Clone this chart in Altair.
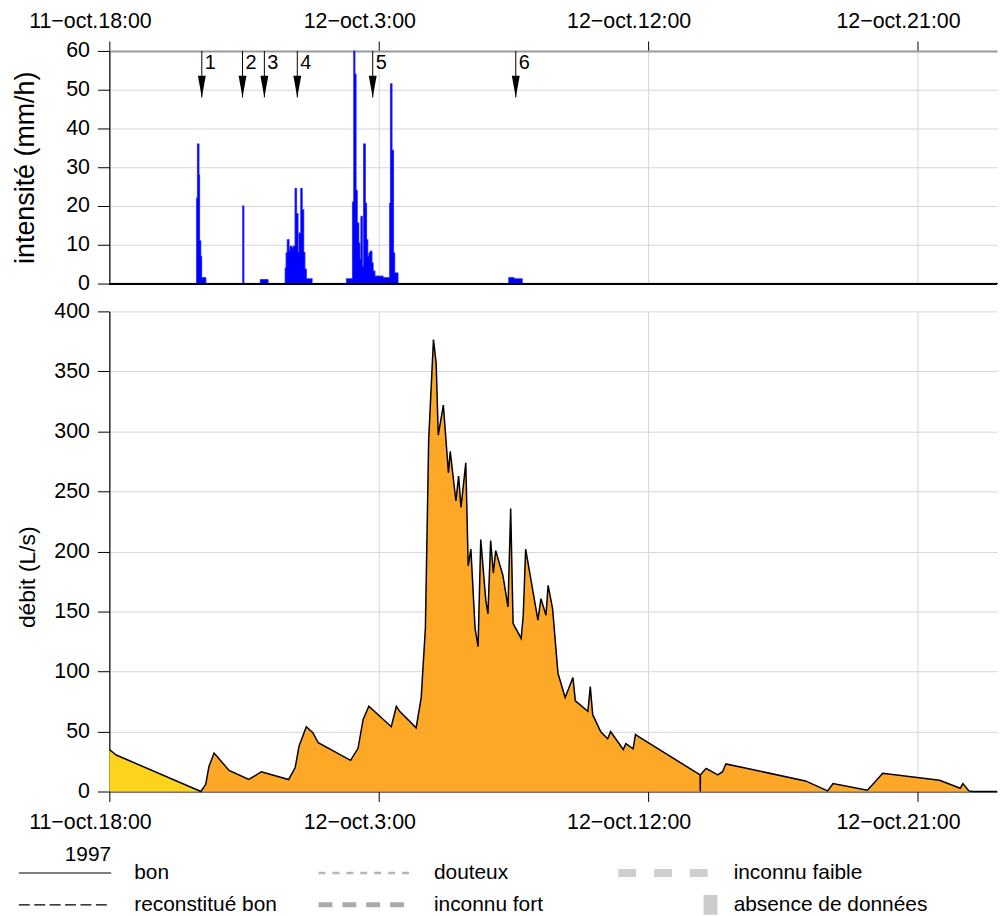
import altair as alt
import pandas as pd

# time axis: hours elapsed since 11 Oct 1997, 18:00
tick_hours = [0, 9, 18, 27]
tick_labels = ["11−oct.18:00", "12−oct.3:00", "12−oct.12:00", "12−oct.21:00"]
x_max = 29.66

# rainfall intensity (mm/h), step series starting at each time
rain_t = [0, 2.92, 2.95, 2.99, 3.01, 3.05, 3.08, 3.22, 4.46, 4.49, 5.05, 5.30,
          5.88, 5.91, 5.95, 6.00, 6.04, 6.10, 6.15, 6.21, 6.25, 6.30, 6.34, 6.40,
          6.44, 6.49, 6.53, 6.58, 6.77, 7.93, 8.13, 8.17, 8.20, 8.24, 8.28, 8.33,
          8.37, 8.41, 8.45, 8.50, 8.55, 8.59, 8.63, 8.68, 8.72, 8.77, 8.81, 8.87,
          9.14, 9.37, 9.40, 9.44, 9.49, 9.53, 9.64, 13.35, 13.52, 13.79, 29.66]
rain_v = [0, 22, 36, 28, 11, 7, 1.5, 0, 20, 0, 1.0, 0,
          4, 7.9, 11.3, 8.3, 9.6, 9.1, 9.6, 24.5, 18, 8, 13, 24.5,
          19, 8, 3.7, 1.2, 0, 1.2, 21, 60, 54, 24, 15.6, 10.4,
          6.2, 17.3, 4.4, 36, 20.7, 11.3, 7, 7.9, 8.3, 5.3, 3.2, 1.9,
          1.5, 20.7, 51.5, 34.4, 7.9, 2.7, 0, 1.5, 1.2, 0, 0]

# discharge (L/s), first stretch
flow1_t = [0, 0.23, 3.06]
flow1_v = [35, 30.4, 0]

# discharge (L/s), remainder
flow2_t = [3.06, 3.22, 3.33, 3.50, 4.00, 4.66, 5.08, 5.99, 6.21, 6.34, 6.58, 6.80,
           6.98, 8.06, 8.31, 8.48, 8.67, 9.42, 9.59, 9.70, 10.25, 10.42, 10.56, 10.67,
           10.83, 10.92, 10.99, 11.16, 11.33, 11.39, 11.58, 11.67, 11.75, 11.91, 11.99, 12.08,
           12.22, 12.32, 12.41, 12.58, 12.65, 12.74, 12.83, 12.91, 13.15, 13.32, 13.41, 13.49,
           13.76, 13.83, 13.91, 14.32, 14.42, 14.59, 14.66, 14.81, 14.99, 15.23, 15.49, 15.57,
           15.99, 16.07, 16.15, 16.42, 16.65, 16.75, 17.17, 17.26, 17.50, 17.58, 17.67, 19.74,
           19.745, 19.75, 19.94, 20.33, 20.49, 20.60, 23.26, 24.00, 24.18, 25.33, 25.84, 27.74,
           28.43, 28.52, 28.72, 28.85, 29.66]
flow2_v = [0, 6, 21, 32, 17.6, 10, 16.5, 10, 20, 38, 54, 49,
           40.6, 26, 36, 60, 71, 54, 71, 66.8, 53, 78, 136, 293,
           376.5, 356.7, 297, 322, 265.6, 283.5, 242, 262.8, 236.6, 273.9, 188, 202,
           136, 120.6, 210, 159, 148, 209, 182, 200.7, 180, 153.8, 235.8, 140,
           127.5, 146.8, 202, 142.7, 160.7, 146.8, 171.7, 152.4, 98.5, 78.4, 95, 75.6,
           66.8, 87.5, 64, 49.7, 44, 50, 35, 39.8, 35.6, 47.5, 46, 13.8,
           0, 14, 19.3, 13.8, 16.5, 23, 8.8, 0.5, 6.6, 1, 15.2, 9.4,
           2.7, 6.6, 0.5, 0, 0]

# numbered rain events
event_t = [3.09, 4.45, 5.18, 6.28, 8.80, 13.58]
event_lbl = ["1", "2", "3", "4", "5", "6"]

# quality legend
leg_labels = ["bon", "reconstitué bon", "douteux", "inconnu fort",
              "inconnu faible", "absence de données"]
leg_col = [0, 0, 1, 1, 2, 2]
leg_row = [0, 1, 0, 1, 0, 1]
leg_title = "1997"

FONT = "Liberation Sans"
W = 893
H_TOP = 234
H_BOT = 483
H_LEG = 95
GRID = "#d6d6d6"
LABEL_SIZE = 21.5
LEG_SIZE = 21

rain = pd.DataFrame({"t": rain_t, "v": rain_v})
flow1 = pd.DataFrame({"t": flow1_t, "v": flow1_v})
flow2 = pd.DataFrame({"t": flow2_t, "v": flow2_v})
flow_all = pd.DataFrame({"t": flow1_t + flow2_t[1:], "v": flow1_v + flow2_v[1:]})
events = pd.DataFrame({"t": event_t, "lbl": event_lbl})
ticks = pd.DataFrame({"t": tick_hours, "lbl": tick_labels})

xscale = alt.Scale(domain=[0, x_max], nice=False, zero=False)


def x_axis(orient):
    return alt.Axis(
        orient=orient, values=tick_hours, labels=False, title=None,
        tickSize=10, tickColor="black", tickWidth=1,
        domainColor="#9a9a9a" if orient == "top" else "black",
        domainWidth=2 if orient == "top" else 1.2,
        grid=True, gridColor=GRID,
    )


def y_axis(values, title, title_y, title_size):
    return alt.Axis(
        values=values, tickCount=len(values), title=title, tickSize=12,
        tickColor="black", domainColor="black", domainWidth=1.2,
        grid=True, gridColor=GRID,
        labelFontSize=LABEL_SIZE, labelColor="black", labelPadding=8,
        labelOverlap=False, labelFlush=False,
        titleFontSize=title_size, titleFontWeight="normal", titleColor="black",
        titleX=-70, titleY=title_y,
    )


# ---- rainfall panel ----
rain_xaxis = x_axis("top")
rain_yscale = alt.Scale(domain=[0, 60], nice=False, zero=False)
rain_yaxis = y_axis(list(range(0, 61, 10)), "intensité (mm/h)", H_TOP / 2, 27)
rain_x = alt.X("t:Q", scale=xscale, axis=rain_xaxis)
rain_y = alt.Y("v:Q", scale=rain_yscale, axis=rain_yaxis)


def rain_level(v):
    return alt.YDatum(v, type="quantitative", scale=rain_yscale, axis=rain_yaxis)


# soft halo under the bars, then the bars themselves
rain_halo = alt.Chart(rain).mark_area(
    interpolate="step-after", color="#0000ff", stroke="#9c9cff", strokeWidth=1.6
).encode(x=rain_x, y=rain_y)
rain_area = alt.Chart(rain).mark_area(
    interpolate="step-after", color="#0000ff", stroke="#0000ff", strokeWidth=0.6
).encode(x=rain_x, y=rain_y)

zero_rule = alt.Chart(rain).mark_rule(color="black", strokeWidth=1.2).encode(
    y=rain_level(0))

top_labels = alt.Chart(ticks).mark_text(
    fontSize=LABEL_SIZE, color="black", baseline="middle", dx=-19, dy=-29
).encode(x=rain_x, y=rain_level(60), text="lbl:N")

ev = alt.Chart(events)
ev_stem = ev.mark_rule(color="black", strokeWidth=1).encode(
    x=rain_x, y=rain_level(60), y2=alt.datum(48))
ev_head = ev.mark_point(
    shape="M-0.36,-1L0.36,-1L0,1Z", size=484, filled=True, color="black", opacity=1
).encode(x=rain_x, y=rain_level(50.8))
ev_text = ev.mark_text(
    align="left", baseline="top", dx=3, dy=2, fontSize=20, color="black"
).encode(x=rain_x, y=rain_level(60), text="lbl:N")

top = alt.layer(rain_halo, rain_area, zero_rule, top_labels, ev_stem, ev_head,
                ev_text).properties(width=W, height=H_TOP)

# ---- discharge panel ----
flow_yscale = alt.Scale(domain=[0, 400], nice=False, zero=False)
flow_yaxis = y_axis(list(range(0, 401, 50)), "débit (L/s)", 267, 23)
flow_x = alt.X("t:Q", scale=xscale, axis=x_axis("bottom"))
flow_y = alt.Y("v:Q", scale=flow_yscale, axis=flow_yaxis)

area1 = alt.Chart(flow1).mark_area(color="#fdd31e", opacity=1).encode(x=flow_x, y=flow_y)
area2 = alt.Chart(flow2).mark_area(color="#fda827", opacity=1).encode(x=flow_x, y=flow_y)
outline = alt.Chart(flow_all).mark_line(color="black", strokeWidth=1.5).encode(
    x=flow_x, y=flow_y)
bottom_labels = alt.Chart(ticks).mark_text(
    fontSize=LABEL_SIZE, color="black", baseline="middle", dx=-19, dy=32
).encode(x=flow_x, y=alt.YDatum(0, type="quantitative", scale=flow_yscale, axis=flow_yaxis),
         text="lbl:N")

bottom = alt.layer(area1, area2, outline, bottom_labels).properties(width=W, height=H_BOT)

# ---- quality legend ----
leg = pd.DataFrame({
    "label": leg_labels, "col": leg_col, "row": leg_row,
})
leg["x0"] = leg["col"]
leg["x1"] = leg["col"] + 0.308
leg["xt"] = leg["col"] + 0.385
# one column unit = 301.5 px, one row unit = 32 px, first row 54 px down
lx = alt.Scale(domain=[0.302, 0.302 + W / 301.5], nice=False, zero=False)
ly = alt.Scale(domain=[-54 / 32, (H_LEG - 54) / 32], nice=False, zero=False, reverse=True)

styles = {
    "bon": dict(color="black", strokeWidth=1.2),
    "reconstitué bon": dict(color="black", strokeWidth=1.2, strokeDash=[11, 4.5]),
    "douteux": dict(color="#b5b5b5", strokeWidth=2.5, strokeDash=[7, 7]),
    "inconnu fort": dict(color="#ababab", strokeWidth=5, strokeDash=[14, 10]),
    "inconnu faible": dict(color="#cfcfcf", strokeWidth=8, strokeDash=[18, 18]),
}
leg_layers = []
for name, st in styles.items():
    leg_layers.append(
        alt.Chart(leg).transform_filter(alt.datum.label == name).mark_rule(**st).encode(
            x=alt.X("x0:Q", scale=lx, axis=None), x2="x1:Q",
            y=alt.Y("row:Q", scale=ly, axis=None))
    )
leg_layers.append(
    alt.Chart(leg).transform_filter(alt.datum.label == "absence de données").mark_rect(
        color="#cccccc", width=14, height=20).encode(
        x=alt.X("x1:Q", scale=lx, axis=None), y=alt.Y("row:Q", scale=ly, axis=None))
)
leg_layers.append(
    alt.Chart(leg).mark_text(align="left", baseline="middle", fontSize=LEG_SIZE,
                             color="black").encode(
        x=alt.X("xt:Q", scale=lx, axis=None), y=alt.Y("row:Q", scale=ly, axis=None),
        text="label:N")
)
title_df = pd.DataFrame({"x": [0.308], "row": [-0.56], "txt": [leg_title]})
leg_layers.append(
    alt.Chart(title_df).mark_text(align="right", baseline="middle", fontSize=LEG_SIZE,
                                  color="black").encode(
        x=alt.X("x:Q", scale=lx, axis=None), y=alt.Y("row:Q", scale=ly, axis=None),
        text="txt:N")
)
legend = alt.layer(*leg_layers).properties(width=W, height=H_LEG)

chart = alt.vconcat(top, bottom, legend, spacing=28, bounds="flush").configure(
    font=FONT, padding={"left": 11, "top": 8.5, "right": 0, "bottom": 0}
).configure_view(strokeWidth=0)

chart.save("out.html", embed_options={"renderer": "svg", "actions": False})
